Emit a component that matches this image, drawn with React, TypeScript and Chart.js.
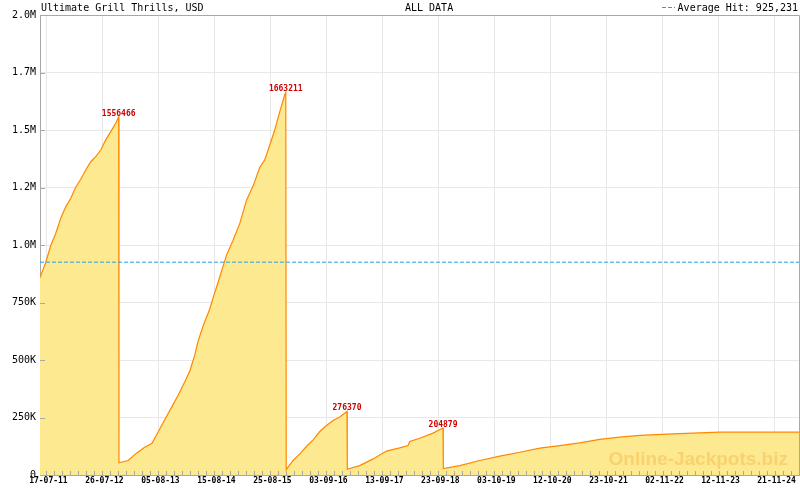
import React, { useEffect, useRef } from 'react';
import { Chart, registerables } from 'chart.js';
Chart.register(...registerables);

const TITLE = 'Ultimate Grill Thrills, USD';
const SUBTITLE = 'ALL DATA';
const WATERMARK = 'Online-Jackpots.biz';
const START_DATE = '2011-07-17';

const tickDates = [
  '2011-07-17', '2012-07-26', '2013-08-05', '2014-08-15', '2015-08-25',
  '2016-09-03', '2017-09-13', '2018-09-23', '2019-10-03', '2020-10-12',
  '2021-10-23', '2022-11-02', '2023-11-12', '2024-11-21',
];

const yTicks = [0, 250000, 500000, 750000, 1000000, 1250000, 1500000, 1750000, 2000000];

// days since START_DATE
const days = [
  -43, -5, 29, 62, 96, 129, 163, 196, 230, 263, 297, 330, 364, 397, 431, 464, 484,
  486, 547, 603, 658, 707, 747, 792, 837, 881, 926, 960, 993, 1015, 1049, 1094, 1116,
  1161, 1206, 1250, 1295, 1340, 1384, 1429, 1462, 1496, 1529, 1563, 1596, 1603,
  1606, 1652, 1697, 1741, 1786, 1831, 1875, 1920, 1964, 2013,
  2015, 2098, 2188, 2277, 2366, 2422, 2433, 2500, 2589, 2656,
  2658, 2768, 2902, 3036, 3170, 3304, 3438, 3571, 3706, 3840, 3974, 4197, 4510, 5040,
];
const values = [
  858000, 924000, 998000, 1050000, 1116000, 1166000, 1203000, 1251000, 1286000, 1326000, 1362000, 1384000, 1413000, 1457000, 1493000, 1529000, 1556466,
  53000, 63000, 95000, 121000, 138000, 186000, 240000, 293000, 346000, 404000, 452000, 520000, 580000, 648000, 722000, 770000,
  861000, 956000, 1021000, 1094000, 1195000, 1256000, 1338000, 1370000, 1435000, 1500000, 1580000, 1653000, 1663211,
  23000, 63000, 92000, 124000, 153000, 189000, 215000, 237000, 252000, 276370,
  25000, 41000, 70000, 104000, 118000, 128000, 146000, 160000, 182000, 204879,
  28000, 41000, 63000, 82000, 99000, 117000, 128000, 140000, 155000, 165000, 172000, 179000, 186000, 186000,
];
const peakValues = [1556466, 1663211, 276370, 204879];
const AVERAGE = 925231;
const X_MIN = -43;
const X_MAX = 5040;

const MONO = "'DejaVu Sans Mono', monospace";
const dayOf = (s: string) => {
  const [y, m, d] = s.split('-').map(Number);
  const [y0, m0, d0] = START_DATE.split('-').map(Number);
  return Math.round((Date.UTC(y, m - 1, d) - Date.UTC(y0, m0 - 1, d0)) / 86400000);
};
const tickDays = tickDates.map(dayOf);
const fmtDate = (s: string) => {
  const [y, m, d] = s.split('-');
  return `${d}-${m}-${y.slice(2)}`;
};
const fmtY = (v: number) => {
  if (v === 0) return '0';
  if (v >= 1000000) return (Math.floor(v / 100000) / 10).toFixed(1) + 'M';
  return Math.round(v / 1000) + 'K';
};

const decor = {
  id: 'decor',
  afterDatasetsDraw(chart: any) {
    const ctx = chart.ctx;
    const { left, right, top, bottom } = chart.chartArea;
    const xs = chart.scales.x;
    const ys = chart.scales.y;
    ctx.save();
    // watermark
    ctx.font = `bold 19px 'Liberation Sans', Arial, sans-serif`;
    ctx.fillStyle = 'rgba(250,185,80,0.5)';
    ctx.textAlign = 'right';
    ctx.textBaseline = 'alphabetic';
    ctx.fillText(WATERMARK, 788, 465);

    // peak labels
    const meta = chart.getDatasetMeta(0);
    ctx.font = `bold 8px ${MONO}`;
    ctx.fillStyle = '#cc0000';
    ctx.textAlign = 'center';
    peakValues.forEach((pv) => {
      const i = values.indexOf(pv);
      const pt = meta.data[i];
      if (pt) ctx.fillText(String(pv), pt.x, pt.y - 1);
    });

    // inner tick marks
    ctx.strokeStyle = '#a8a8a8';
    ctx.lineWidth = 1;
    ctx.beginPath();
    for (let k = 0; k < tickDays.length; k++) {
      const a = tickDays[k];
      const b = k + 1 < tickDays.length ? tickDays[k + 1] : a + (a - tickDays[k - 1]);
      const step = (b - a) / 7;
      for (let j = 0; j < 7; j++) {
        const v = a + j * step;
        if (v < X_MIN || v > X_MAX) continue;
        const px = Math.round(xs.getPixelForValue(v)) + 0.5;
        ctx.moveTo(px, bottom);
        ctx.lineTo(px, bottom - 4);
      }
    }
    yTicks.forEach((v) => {
      const py = Math.round(ys.getPixelForValue(v)) + 0.5;
      ctx.moveTo(left, py);
      ctx.lineTo(left + 5, py);
    });
    ctx.stroke();

    // top and right border
    ctx.beginPath();
    ctx.moveTo(left, Math.round(top) + 0.5);
    ctx.lineTo(Math.round(right) + 0.5, Math.round(top) + 0.5);
    ctx.lineTo(Math.round(right) + 0.5, bottom);
    ctx.stroke();

    // header texts
    ctx.font = `10px ${MONO}`;
    ctx.fillStyle = '#000';
    ctx.textAlign = 'left';
    ctx.fillText(TITLE, 41, 11);
    ctx.fillText(SUBTITLE, 405, 11);
    ctx.textAlign = 'right';
    ctx.fillText('Average Hit: ' + AVERAGE.toLocaleString('en-US'), 798, 11);
    ctx.strokeStyle = '#2c9fd9';
    ctx.setLineDash([4, 2]);
    ctx.beginPath();
    ctx.moveTo(662, 7.5);
    ctx.lineTo(675, 7.5);
    ctx.stroke();
    ctx.restore();
  },
};

export default function App() {
  const ref = useRef<HTMLCanvasElement | null>(null);
  useEffect(() => {
    document.body.style.margin = '0';
    const canvas = ref.current!;
    const chart = new Chart(canvas, {
      type: 'line',
      data: {
        datasets: [
          {
            data: days.map((d, i) => ({ x: d, y: values[i] })),
            borderColor: '#ff8800',
            backgroundColor: '#fde98f',
            borderWidth: 1.2,
            fill: 'origin',
            pointRadius: 0,
            tension: 0,
            order: 1,
          },
          {
            data: [
              { x: X_MIN, y: AVERAGE },
              { x: X_MAX, y: AVERAGE },
            ],
            borderColor: '#2c9fd9',
            borderWidth: 1,
            borderDash: [4, 2],
            fill: false,
            pointRadius: 0,
            order: 0,
          },
        ],
      },
      options: {
        responsive: false,
        animation: false,
        layout: { padding: { top: 15, right: 1, left: 0, bottom: 0 } },
        plugins: { legend: { display: false }, tooltip: { enabled: false } },
        scales: {
          x: {
            type: 'linear',
            min: X_MIN,
            max: X_MAX,
            afterBuildTicks: (s: any) => {
              s.ticks = tickDays.map((v) => ({ value: v }));
            },
            afterFit: (s: any) => {
              s.height = 15;
            },
            grid: { color: '#e8e8e8', drawTicks: false },
            border: { color: '#a8a8a8' },
            ticks: {
              autoSkip: false,
              maxRotation: 0,
              padding: 1,
              labelOffset: 2,
              color: '#000',
              font: { family: MONO, size: 8, weight: 'bold' },
              callback: (_v: any, i: number) => fmtDate(tickDates[i]),
            },
          },
          y: {
            min: 0,
            max: 2000000,
            afterBuildTicks: (s: any) => {
              s.ticks = yTicks.map((v) => ({ value: v }));
            },
            afterFit: (s: any) => {
              s.width = 40;
            },
            grid: { color: '#e8e8e8', drawTicks: false },
            border: { color: '#a8a8a8' },
            ticks: {
              padding: 4,
              color: '#000',
              font: { family: MONO, size: 10 },
              callback: (v: any) => fmtY(Number(v)),
            },
          },
        },
      },
      plugins: [decor],
    } as any);
    return () => chart.destroy();
  }, []);
  return <canvas ref={ref} width={800} height={490} style={{ display: 'block', width: 800, height: 490 }} />;
}
